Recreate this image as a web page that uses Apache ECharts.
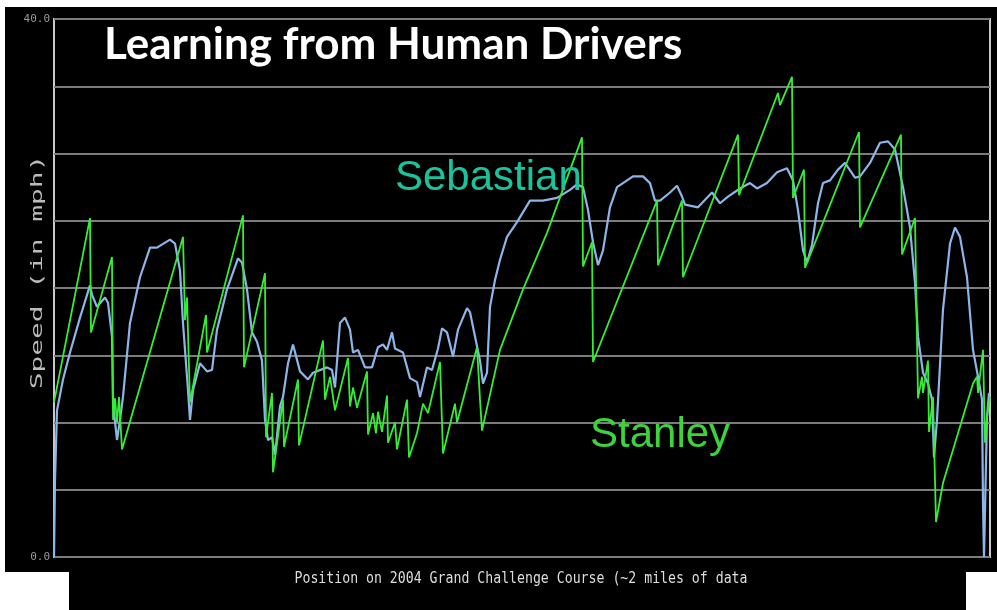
<!DOCTYPE html>
<html>
<head>
<meta charset="utf-8">
<script src="https://cdn.jsdelivr.net/npm/echarts@6/dist/echarts.min.js"></script>
<style>
  html, body { margin: 0; padding: 0; background: #fff; }
  #chart { width: 997px; height: 610px; }
</style>
</head>
<body>
<div id="chart"></div>
<script>
// speed (mph) against position along the course
const stanley = [
  [0, 11.5], [36, 25.2], [37, 16.7], [58, 22.3], [59, 10.2], [61, 11.8], [63, 10.0], [65, 11.9],
  [68, 8.0], [129, 23.8], [131, 17.6], [133, 19.3], [136, 11.5], [152, 18.0], [153, 15.2],
  [189, 25.4], [190, 14.1], [211, 21.1], [212, 8.9], [218, 12.2], [219, 6.3], [229, 11.7],
  [230, 8.2], [244, 13.2], [245, 8.3], [269, 16.1], [271, 11.7], [276, 13.4], [281, 10.9],
  [294, 14.8], [296, 11.2], [299, 12.6], [303, 11.1], [313, 13.8], [314, 9.1], [319, 10.7],
  [322, 9.2], [324, 10.8], [328, 9.3], [333, 12.0], [334, 8.5], [341, 10.0], [343, 8.0],
  [353, 11.7], [355, 7.4], [363, 9.2], [369, 11.4], [374, 10.7], [386, 14.5], [389, 7.7],
  [401, 11.4], [403, 10.0], [423, 15.6], [426, 11.7], [428, 9.4], [446, 15.4], [469, 19.9],
  [493, 24.1], [528, 31.2], [529, 21.6], [538, 23.4], [539, 14.5], [603, 26.5], [604, 21.7],
  [628, 26.5], [629, 20.8], [684, 31.4], [685, 26.9], [724, 34.5], [726, 33.6], [738, 35.7],
  [739, 26.7], [750, 28.8], [751, 21.5], [805, 31.6], [806, 24.5], [847, 31.4], [848, 22.5],
  [861, 25.2], [864, 11.8], [868, 13.4], [869, 12.2], [874, 14.6], [875, 9.3], [879, 11.9],
  [882, 2.6], [889, 5.5], [919, 12.9], [923, 13.4], [924, 12.2], [929, 15.4], [931, 8.5],
  [933, 10.4], [936, 11.9]
]

const sebastian = [
  [0, 0], [1, 5.7], [3, 10.9], [9, 13.2], [16, 15.2], [26, 17.8], [36, 20.2], [38, 19.5],
  [43, 18.6], [51, 19.3], [54, 18.9], [58, 16.4], [59, 11.4], [63, 8.7], [66, 10.2], [69, 11.9],
  [76, 17.4], [86, 20.8], [96, 23.0], [103, 23.0], [116, 23.6], [121, 23.3], [126, 21.3],
  [129, 17.4], [134, 12.4], [136, 10.2], [139, 12.4], [146, 14.4], [153, 13.8], [158, 13.9],
  [163, 16.9], [173, 19.9], [184, 22.2], [188, 21.9], [193, 19.9], [198, 16.7], [203, 16.0],
  [208, 14.6], [211, 10.2], [214, 8.7], [218, 8.9], [221, 7.6], [226, 11.2], [229, 11.9],
  [234, 14.4], [239, 15.8], [246, 13.8], [254, 13.2], [259, 13.7], [273, 14.1], [278, 13.9],
  [281, 12.6], [286, 17.4], [291, 17.8], [296, 16.9], [299, 15.2], [304, 15.4], [311, 14.1],
  [318, 14.1], [324, 15.6], [329, 15.8], [333, 15.4], [338, 16.7], [341, 15.5], [349, 15.2],
  [356, 13.3], [363, 13.0], [366, 11.9], [373, 14.1], [378, 13.9], [384, 15.5], [388, 17.0],
  [393, 16.7], [399, 14.9], [404, 16.9], [413, 18.5], [416, 18.2], [421, 16.4], [426, 14.6],
  [429, 12.9], [433, 13.7], [436, 18.6], [441, 20.6], [446, 22.1], [453, 23.8], [463, 24.9],
  [476, 26.5], [489, 26.5], [503, 26.7], [516, 27.3], [523, 27.7], [529, 27.5], [534, 25.8],
  [539, 23.4], [544, 21.7], [549, 22.8], [556, 26.0], [563, 27.5], [569, 27.8], [579, 28.3],
  [589, 28.3], [596, 27.8], [601, 26.5], [606, 26.5], [616, 27.1], [623, 27.6], [628, 26.8],
  [631, 26.2], [644, 26.0], [658, 27.1], [666, 26.3], [674, 26.8], [686, 27.4], [696, 27.8],
  [703, 27.4], [713, 27.8], [723, 28.6], [733, 28.9], [739, 28.0], [744, 25.8], [749, 22.8],
  [753, 21.9], [758, 23.2], [764, 26.3], [769, 27.8], [776, 28.0], [784, 28.8], [791, 29.3],
  [801, 28.2], [806, 28.3], [816, 29.3], [826, 30.8], [834, 30.9], [841, 30.3], [849, 27.5],
  [856, 24.5], [861, 20.4], [864, 16.4], [869, 13.7], [874, 12.9], [878, 11.7], [880, 7.4],
  [883, 10.2], [889, 18.4], [896, 23.3], [901, 24.5], [906, 23.8], [913, 20.8], [919, 15.4],
  [924, 13.4], [928, 11.7], [929, 4.0], [930, 0], [933, 10.4], [935, 12.2]
]

const yTicks = [0, 40]

const chart = echarts.init(document.getElementById('chart'))

chart.setOption({
  backgroundColor: '#fff',
  animation: false,

  graphic: [
    { type: 'rect', z: -10, shape: { x: 5, y: 7, width: 992, height: 565 }, style: { fill: '#000' } },
    { type: 'rect', z: -10, shape: { x: 69, y: 572, width: 897, height: 38 }, style: { fill: '#000' } },
    {
      type: 'text', x: 104, y: 45, z: 10,
      style: { text: 'Learning from Human Drivers', fill: '#fff', font: 'bold 44px Lato', textVerticalAlign: 'middle' }
    },
    {
      type: 'text', x: 395, y: 178, z: 10,
      style: { text: 'Sebastian', fill: '#19c49c', font: '42px "Liberation Sans"', textVerticalAlign: 'middle' }
    },
    {
      type: 'text', x: 590, y: 435, z: 10,
      style: { text: 'Stanley', fill: '#3bd43b', font: '42px "Liberation Sans"', textVerticalAlign: 'middle' }
    },
    {
      type: 'text', x: 38, y: 272, rotation: Math.PI / 2, scaleX: 1.74, z: 10,
      style: { text: 'Speed (in mph)', fill: '#bbb', font: '16px "DejaVu Sans Mono"', textAlign: 'center', textVerticalAlign: 'middle' }
    },
    {
      type: 'text', x: 521, y: 579, scaleX: 0.88, z: 10,
      style: { text: 'Position on 2004 Grand Challenge Course (~2 miles of data', fill: '#ddd', font: '15px "DejaVu Sans Mono"', textAlign: 'center', textVerticalAlign: 'middle' }
    }
  ],

  grid: {
    left: 54,
    right: 7,
    top: 19,
    bottom: 53,
    show: true,
    borderColor: '#c8c8c8',
    borderWidth: 2,
    backgroundColor: 'transparent'
  },

  xAxis: {
    type: 'value',
    min: 0,
    max: 936,
    axisLine: { show: false },
    axisTick: { show: false },
    axisLabel: { show: false },
    splitLine: { show: false }
  },

  yAxis: {
    type: 'value',
    min: 0,
    max: 40,
    interval: 5,
    axisLine: { show: false },
    axisTick: { show: false },
    axisLabel: {
      color: '#9a9a9a',
      fontSize: 11,
      fontFamily: 'DejaVu Sans Mono',
      margin: 4,
      formatter: (v) => (yTicks.includes(v) ? v.toFixed(1) : '')
    },
    splitLine: {
      lineStyle: { color: '#7c7c7c', width: 2 }
    }
  },

  series: [
    {
      name: 'Sebastian',
      type: 'line',
      data: sebastian,
      showSymbol: false,
      lineStyle: { color: '#8db5e8', width: 2.2 }
    },
    {
      name: 'Stanley',
      type: 'line',
      data: stanley,
      showSymbol: false,
      lineStyle: { color: '#33ee33', width: 1.8 }
    }
  ]
})
</script>
</body>
</html>
